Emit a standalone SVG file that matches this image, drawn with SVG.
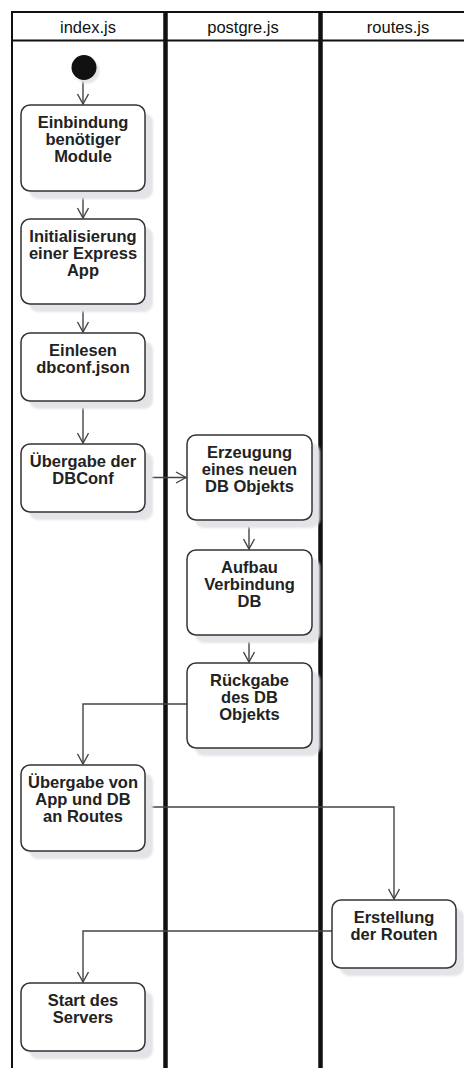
<svg xmlns="http://www.w3.org/2000/svg" width="464" height="1068" viewBox="0 0 464 1068">
  <style>
    .lane { stroke: #111; fill: none; }
    .head { font-family: "Liberation Sans", Arial, sans-serif; font-size: 16.5px; fill: #111; text-anchor: middle; }
    .box { fill: #fff; stroke: #333; stroke-width: 1.5; }
    .shadow { fill: #e4e4e8; }
    .lbl { font-family: "Liberation Sans", Arial, sans-serif; font-size: 16.5px; font-weight: bold; fill: #222; text-anchor: middle; }
    .edge { stroke: #444; stroke-width: 1.4; fill: none; marker-end: url(#open); }
  </style>
  <defs>
    <marker id="open" markerWidth="12" markerHeight="14" refX="11" refY="7" orient="auto" markerUnits="userSpaceOnUse">
      <path d="M1,1.5 L11,7 L1,12.5" fill="none" stroke="#444" stroke-width="1.4"/>
    </marker>
    <filter id="soft" x="-20%" y="-20%" width="140%" height="140%">
      <feGaussianBlur stdDeviation="1"/>
    </filter>
  </defs>
  <rect width="464" height="1068" fill="#fff"/>

  <!-- swimlane frame -->
  <g id="lanes">
    <line class="lane" x1="12" y1="11" x2="12" y2="1068" stroke-width="2"/>
    <line class="lane" x1="11" y1="12" x2="464" y2="12" stroke-width="2"/>
    <line class="lane" x1="11" y1="40.5" x2="464" y2="40.5" stroke-width="2"/>
    <line class="lane" x1="165.5" y1="11" x2="165.5" y2="1068" stroke-width="4.5"/>
    <line class="lane" x1="320.5" y1="11" x2="320.5" y2="1068" stroke-width="4.5"/>
    <text class="head" x="88" y="33">index.js</text>
    <text class="head" x="243" y="33">postgre.js</text>
    <text class="head" x="398" y="33">routes.js</text>
  </g>

  <!-- connectors -->
  <g id="edges">
    <line class="edge" x1="83" y1="80" x2="83" y2="104"/>
    <line class="edge" x1="83" y1="191" x2="83" y2="218"/>
    <line class="edge" x1="83" y1="304" x2="83" y2="332"/>
    <line class="edge" x1="83" y1="401" x2="83" y2="443"/>
    <line class="edge" x1="145" y1="477.5" x2="186" y2="477.5"/>
    <line class="edge" x1="249" y1="520" x2="249" y2="549"/>
    <line class="edge" x1="249" y1="635" x2="249" y2="662"/>
    <polyline class="edge" points="187,704 83,704 83,764"/>
    <polyline class="edge" points="145,807 394,807 394,899"/>
    <polyline class="edge" points="332,931 83,931 83,982"/>
  </g>

  <g id="start">
    <circle cx="87" cy="71" r="12.5" class="shadow" filter="url(#soft)"/>
    <circle cx="84" cy="67.5" r="12.5" fill="#111"/>
  </g>

  <g id="n1">
    <rect class="shadow" x="29" y="113" width="124" height="86" rx="9" filter="url(#soft)"/>
    <rect class="box" x="21" y="105" width="124" height="86" rx="9"/>
    <text class="lbl" x="83" y="128">Einbindung</text>
    <text class="lbl" x="83" y="145">benötiger</text>
    <text class="lbl" x="83" y="162">Module</text>
  </g>

  <g id="n2">
    <rect class="shadow" x="29" y="227" width="124" height="85" rx="9" filter="url(#soft)"/>
    <rect class="box" x="21" y="219" width="124" height="85" rx="9"/>
    <text class="lbl" x="83" y="242">Initialisierung</text>
    <text class="lbl" x="83" y="259">einer Express</text>
    <text class="lbl" x="83" y="276">App</text>
  </g>

  <g id="n3">
    <rect class="shadow" x="29" y="341" width="124" height="68" rx="9" filter="url(#soft)"/>
    <rect class="box" x="21" y="333" width="124" height="68" rx="9"/>
    <text class="lbl" x="83" y="356">Einlesen</text>
    <text class="lbl" x="83" y="373">dbconf.json</text>
  </g>

  <g id="n4">
    <rect class="shadow" x="29" y="452" width="124" height="68" rx="9" filter="url(#soft)"/>
    <rect class="box" x="21" y="444" width="124" height="68" rx="9"/>
    <text class="lbl" x="83" y="467">Übergabe der</text>
    <text class="lbl" x="83" y="484">DBConf</text>
  </g>

  <g id="n5">
    <rect class="shadow" x="195" y="443" width="125" height="85" rx="9" filter="url(#soft)"/>
    <rect class="box" x="187" y="435" width="125" height="85" rx="9"/>
    <text class="lbl" x="249.5" y="458">Erzeugung</text>
    <text class="lbl" x="249.5" y="475">eines neuen</text>
    <text class="lbl" x="249.5" y="492">DB Objekts</text>
  </g>

  <g id="n6">
    <rect class="shadow" x="195" y="558" width="125" height="85" rx="9" filter="url(#soft)"/>
    <rect class="box" x="187" y="550" width="125" height="85" rx="9"/>
    <text class="lbl" x="249.5" y="573">Aufbau</text>
    <text class="lbl" x="249.5" y="590">Verbindung</text>
    <text class="lbl" x="249.5" y="607">DB</text>
  </g>

  <g id="n7">
    <rect class="shadow" x="195" y="671" width="125" height="85" rx="9" filter="url(#soft)"/>
    <rect class="box" x="187" y="663" width="125" height="85" rx="9"/>
    <text class="lbl" x="249.5" y="686">Rückgabe</text>
    <text class="lbl" x="249.5" y="703">des DB</text>
    <text class="lbl" x="249.5" y="720">Objekts</text>
  </g>

  <g id="n8">
    <rect class="shadow" x="29" y="773" width="124" height="86" rx="9" filter="url(#soft)"/>
    <rect class="box" x="21" y="765" width="124" height="86" rx="9"/>
    <text class="lbl" x="83" y="788">Übergabe von</text>
    <text class="lbl" x="83" y="805">App und DB</text>
    <text class="lbl" x="83" y="822">an Routes</text>
  </g>

  <g id="n9">
    <rect class="shadow" x="340" y="908" width="124" height="68" rx="9" filter="url(#soft)"/>
    <rect class="box" x="332" y="900" width="124" height="68" rx="9"/>
    <text class="lbl" x="394" y="923">Erstellung</text>
    <text class="lbl" x="394" y="940">der Routen</text>
  </g>

  <g id="n10">
    <rect class="shadow" x="29" y="991" width="124" height="68" rx="9" filter="url(#soft)"/>
    <rect class="box" x="21" y="983" width="124" height="68" rx="9"/>
    <text class="lbl" x="83" y="1006">Start des</text>
    <text class="lbl" x="83" y="1023">Servers</text>
  </g>
</svg>
